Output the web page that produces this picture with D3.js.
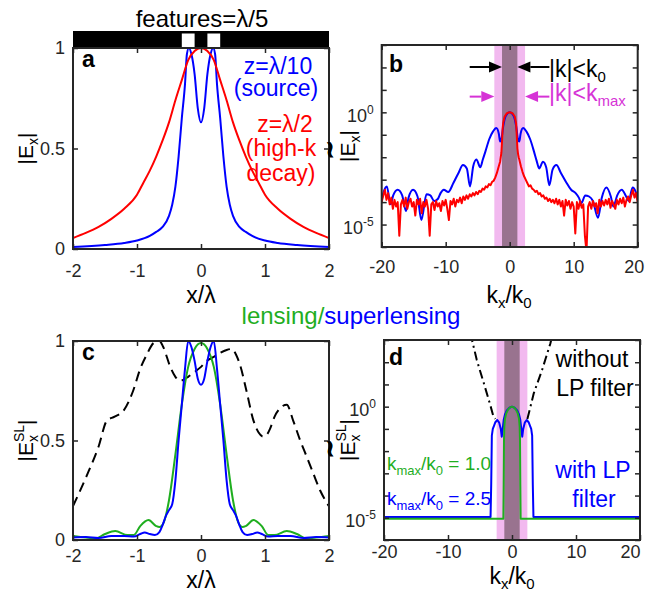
<!DOCTYPE html>
<html><head><meta charset="utf-8">
<script src="https://cdn.jsdelivr.net/npm/d3@7"></script>
<style>
body{margin:0;background:#fff}
svg{display:block}
</style></head><body>
<svg id="fig" width="648" height="597"></svg>
<script>
// ---------- data ----------
// (a) real-space field profiles |Ex|
const aSrcX = [-2,-1.5,-1.2,-1,-0.8,-0.7,-0.6,-0.5,-0.45,-0.4,-0.35,-0.3,-0.25,-0.22,-0.19,-0.15,-0.1,-0.05,0,0.05,0.1,0.15,0.19,0.22,0.25,0.3,0.35,0.4,0.45,0.5,0.6,0.7,0.8,1,1.2,1.5,2];
const aSrcY = [0.01,0.02,0.03,0.042,0.065,0.085,0.11,0.165,0.22,0.31,0.46,0.65,0.82,0.97,1.0,0.97,0.87,0.7,0.63,0.7,0.87,0.97,1.0,0.97,0.82,0.65,0.46,0.31,0.22,0.165,0.11,0.085,0.065,0.042,0.03,0.02,0.01];
const aFarX = [-2,-1.8,-1.6,-1.4,-1.2,-1,-0.9,-0.8,-0.7,-0.6,-0.5,-0.4,-0.3,-0.2,-0.1,0,0.1,0.2,0.3,0.4,0.5,0.6,0.7,0.8,0.9,1,1.2,1.4,1.6,1.8,2];
const aFarY = [0.055,0.08,0.11,0.15,0.2,0.27,0.33,0.39,0.46,0.54,0.63,0.74,0.84,0.94,0.985,1,0.985,0.94,0.84,0.74,0.63,0.54,0.46,0.39,0.33,0.27,0.2,0.15,0.11,0.08,0.055];
const featureCenters = [-0.2, 0.2];
const featureWidth = 0.2;

// (b) spatial spectra, log10 of |E~x|
const bSrcK = [-20,-19.7,-19.2,-18.6,-18.2,-17.5,-16.8,-16.2,-15.8,-15.1,-14.4,-13.8,-13.0,-12.4,-11.8,-11.2,-10.8,-10.3,-9.6,-8.8,-8.0,-7.3,-6.7,-6.2,-5.7,-5.2,-4.6,-4.2,-3.8,-3.2,-2.6,-2.1,-1.7,-1.5,-1.3,-1.0,-0.6,0,0.6,1.0,1.3,1.5,1.7,2.1,2.6,3.2,3.8,4.2,4.6,5.2,5.7,6.2,6.7,7.3,8.0,8.8,9.6,10.3,10.8,11.2,11.8,12.4,13.0,13.8,14.4,15.1,15.8,16.2,16.8,17.5,18.2,18.6,19.2,19.7,20];
const bSrcE = [-3.9,-3.55,-3.3,-4.1,-3.7,-3.45,-3.7,-4.4,-3.8,-3.45,-3.75,-4.8,-3.65,-3.7,-3.95,-3.85,-3.6,-3.45,-3.55,-3.15,-2.7,-2.35,-2.5,-3.3,-2.4,-2.1,-2.45,-2.1,-1.75,-1.2,-0.85,-0.7,-0.95,-1.3,-1.2,-0.6,-0.15,0,-0.15,-0.6,-1.2,-1.3,-0.95,-0.7,-0.85,-1.2,-1.75,-2.15,-2.5,-2.2,-2.45,-3.25,-2.55,-2.35,-2.7,-3.1,-3.45,-3.6,-3.8,-4.05,-3.7,-3.75,-3.95,-4.7,-3.8,-3.35,-3.75,-4.2,-3.7,-3.45,-3.75,-3.95,-3.35,-3.55,-3.9];
const bFarK = [-20,-19.75,-19.5,-19.25,-19,-18.75,-18.5,-18.25,-18,-17.75,-17.5,-17.25,-17,-16.75,-16.5,-16.25,-16,-15.75,-15.5,-15.25,-15,-14.75,-14.5,-14.25,-14,-13.75,-13.5,-13.25,-13,-12.75,-12.5,-12.25,-12,-11.75,-11.5,-11.25,-11,-10.75,-10.5,-10.25,-10,-9.75,-9.5,-9.25,-9,-8.75,-8.5,-8.25,-8,-7.75,-7.5,-7.25,-7,-6.75,-6.5,-6.25,-6,-5.75,-5.5,-5.25,-5,-4.75,-4.5,-4.25,-4,-3.75,-3.5,-3.25,-3,-2.75,-2.5,-2.25,-2,-1.75,-1.5,-1.4,-1.3,-1.2,-1.1,-1,-0.8,-0.5,-0.25,0,0.25,0.5,0.8,1,1.1,1.2,1.3,1.4,1.5,1.75,2,2.25,2.5,2.75,3,3.25,3.5,3.75,4,4.25,4.5,4.75,5,5.25,5.5,5.75,6,6.25,6.5,6.75,7,7.25,7.5,7.75,8,8.25,8.5,8.75,9,9.25,9.5,9.75,10,10.25,10.5,10.75,11,11.25,11.5,11.75,12,12.25,12.5,12.75,13,13.25,13.5,13.75,14,14.25,14.5,14.75,15,15.25,15.5,15.75,16,16.25,16.5,16.75,17,17.25,17.5,17.75,18,18.25,18.5,18.75,19,19.25,19.5,19.75,20];
const bFarE = [-4.0,-3.7,-3.45,-3.9,-3.6,-4.1,-3.8,-4.3,-3.9,-4.2,-4.0,-5.5,-4.1,-3.9,-4.2,-3.8,-4.3,-4.0,-3.85,-4.2,-4.0,-4.6,-3.9,-4.1,-3.85,-4.5,-4.0,-4.2,-3.9,-4.3,-5.5,-4.1,-4.0,-4.35,-3.95,-4.2,-4.05,-4.4,-3.95,-4.15,-3.9,-4.3,-4.8,-3.95,-4.1,-3.85,-4.2,-3.9,-4.0,-3.8,-4.05,-3.75,-3.9,-3.7,-3.85,-3.65,-3.75,-3.6,-3.7,-3.55,-3.65,-3.5,-3.55,-3.4,-3.45,-3.3,-3.35,-3.2,-3.25,-3.1,-3.05,-2.9,-2.7,-2.45,-2.2,-2.0,-1.8,-1.3,-0.7,-0.45,-0.2,-0.06,-0.015,0,-0.015,-0.06,-0.2,-0.5,-1.0,-1.6,-1.85,-2.0,-2.1,-2.4,-2.65,-2.85,-3.0,-3.15,-3.3,-3.25,-3.4,-3.45,-3.55,-3.5,-3.65,-3.6,-3.75,-3.7,-3.85,-3.8,-3.95,-3.85,-4.0,-3.9,-4.05,-3.85,-4.1,-3.9,-4.2,-3.95,-4.6,-3.9,-4.15,-3.95,-4.3,-4.0,-4.2,-5.4,-4.0,-4.3,-3.95,-4.25,-4.1,-5.5,-6.2,-4.2,-4.0,-4.3,-3.95,-4.2,-4.05,-4.5,-3.9,-4.2,-3.95,-4.15,-3.9,-4.1,-3.85,-4.25,-3.95,-4.1,-4.3,-3.9,-4.1,-3.85,-4.05,-3.8,-4.2,-3.9,-3.75,-4.0,-3.7,-3.45,-3.8,-3.6,-4.0];
const k0Half = 1.2;      // |k| < k0 band
const kmaxHalf = 2.4;    // |k| < kmax band

// (c) superlens image profiles |Ex^SL|
const cLensX = [-2,-1.8,-1.65,-1.5,-1.34,-1.15,-1.05,-0.95,-0.82,-0.7,-0.65,-0.58,-0.5,-0.4,-0.3,-0.2,-0.1,0,0.1,0.2,0.3,0.4,0.5,0.58,0.65,0.7,0.82,0.95,1.05,1.15,1.34,1.5,1.65,1.8,2];
const cLensY = [0.02,0.012,0.008,0.03,0.045,0.025,0.025,0.07,0.10,0.07,0.065,0.09,0.2,0.43,0.68,0.87,0.96,0.99,0.96,0.87,0.68,0.43,0.2,0.09,0.065,0.07,0.10,0.07,0.025,0.025,0.045,0.03,0.008,0.012,0.02];
const cSuperX = [-2,-1.8,-1.6,-1.4,-1.2,-1.05,-0.95,-0.88,-0.8,-0.72,-0.65,-0.6,-0.55,-0.5,-0.45,-0.4,-0.35,-0.3,-0.25,-0.2,-0.15,-0.1,-0.05,0,0.05,0.1,0.15,0.2,0.25,0.3,0.35,0.4,0.45,0.5,0.55,0.6,0.65,0.72,0.8,0.88,0.95,1.05,1.2,1.4,1.6,1.8,2];
const cSuperY = [0.013,0.015,0.01,0.02,0.02,0.018,0.03,0.038,0.03,0.025,0.04,0.075,0.12,0.15,0.18,0.3,0.5,0.68,0.86,1.0,0.97,0.9,0.81,0.78,0.81,0.9,0.97,1.0,0.86,0.68,0.5,0.3,0.18,0.15,0.12,0.075,0.04,0.025,0.03,0.038,0.03,0.018,0.02,0.02,0.01,0.015,0.013];
const cNoLPX = [-2,-1.79,-1.6,-1.47,-1.35,-1.21,-1.06,-0.95,-0.85,-0.74,-0.65,-0.59,-0.48,-0.4,-0.33,-0.2,-0.12,0,0.09,0.2,0.3,0.4,0.48,0.55,0.61,0.71,0.82,0.9,0.97,1.03,1.08,1.15,1.23,1.34,1.44,1.55,1.65,1.76,1.86,1.96,2];
const cNoLPY = [0.17,0.32,0.47,0.6,0.62,0.65,0.75,0.86,0.93,0.99,1.0,0.97,0.87,0.82,0.8,0.82,0.84,0.87,0.9,0.92,0.94,0.955,0.96,0.93,0.88,0.75,0.6,0.54,0.52,0.53,0.56,0.62,0.66,0.68,0.6,0.5,0.42,0.33,0.25,0.19,0.17];

// (d) filtered spectra, log10 of |E~x^SL|
const dSuperK = [-20,-3.35,-3.25,-3.15,-3.0,-2.8,-2.6,-2.3,-2.0,-1.75,-1.6,-1.45,-1.3,-1.1,-0.8,-0.4,0,0.4,0.8,1.1,1.3,1.45,1.6,1.75,2.0,2.3,2.6,2.8,3.0,3.15,3.25,3.35,20];
const dSuperE = [-4.96,-4.96,-3.5,-1.3,-1.0,-0.85,-0.7,-0.6,-0.72,-1.0,-1.35,-1.0,-0.6,-0.35,-0.17,-0.05,0,-0.05,-0.17,-0.35,-0.6,-1.0,-1.35,-1.0,-0.72,-0.6,-0.7,-0.85,-1.0,-1.3,-3.5,-4.96,-4.96];
const dLensK = [-20,-1.35,-1.3,-1.25,-1.2,-1.1,-0.9,-0.6,-0.3,0,0.3,0.6,0.9,1.1,1.2,1.25,1.3,1.35,20];
const dLensE = [-5.04,-5.04,-3.5,-1.5,-0.9,-0.55,-0.3,-0.12,-0.03,0,-0.03,-0.12,-0.3,-0.55,-0.9,-1.5,-3.5,-5.04,-5.04];
const dNoLPK = [-6.6,-6.25,-5.5,-4.4,-3.4,-2.9,-2.6,0,2.4,2.8,3.4,4.7,6.0,6.3];
const dNoLPE = [3.3,3.0,2.1,1.05,0.08,-0.45,-0.55,null,-0.55,-0.1,0.6,1.65,2.85,3.2];

const xTicksA = [-2,-1,0,1,2];
const yTicksA = [0,0.5,1];
const xTicksB = [-20,-10,0,10,20];
const decades = [-6,-5,-4,-3,-2,-1,0,1,2,3];
const labelledDecades = [0,-5];

// ---------- drawing ----------
const FONT = '"Liberation Sans", Arial, Helvetica, sans-serif';
const AX = "#262626";
const BLUE = "#0000ff", RED = "#ff0000", GREEN = "#1fae1f", MAG = "#d633d6";
const PINK = "#f2b9ef", DARK = "#99738f";
const TXT = 23, SUB = 15;

const svg = d3.select("#fig").style("font-family", FONT);

const boxA = {l:73, r:329, t:48, b:249};
const boxB = {l:381.7, r:637.7, t:45, b:247};
const boxC = {l:73, r:329, t:341, b:540};
const boxD = {l:384, r:640, t:340, b:540};

const xA = d3.scaleLinear().domain([-2,2]).range([boxA.l, boxA.r]);
const yA = d3.scaleLinear().domain([0,1]).range([boxA.b, boxA.t]);
const xB = d3.scaleLinear().domain([-20,20]).range([boxB.l, boxB.r]);
const yB = d3.scaleLog().domain([1e-6,1e3]).range([boxB.b, boxB.t]);
const xC = d3.scaleLinear().domain([-2,2]).range([boxC.l, boxC.r]);
const yC = d3.scaleLinear().domain([0,1]).range([boxC.b, boxC.t]);
const xD = d3.scaleLinear().domain([-20,20]).range([boxD.l, boxD.r]);
const yD = d3.scaleLog().domain([1e-6,1e3]).range([boxD.b, boxD.t]);

const defs = svg.append("defs");
function clip(id, box) {
  defs.append("clipPath").attr("id", id).append("rect")
    .attr("x", box.l).attr("y", box.t).attr("width", box.r - box.l).attr("height", box.b - box.t);
  return svg.append("g").attr("clip-path", `url(#${id})`);
}

function zipLin(xs, ys) { return xs.map((x, i) => ({x, y: ys[i]})); }
function zipLog(xs, es) { return xs.map((x, i) => ({x, y: es[i] === null ? null : Math.pow(10, es[i])})); }

function plot(g, data, x, y, color, opts = {}) {
  const line = d3.line().defined(d => d.y !== null).x(d => x(d.x)).y(d => y(d.y))
    .curve(opts.curve || d3.curveLinear);
  g.append("path").datum(data).attr("d", line).attr("fill", "none")
    .attr("stroke", color).attr("stroke-width", opts.width || 2)
    .attr("stroke-linejoin", "round")
    .attr("stroke-dasharray", opts.dash || null);
}

function axes(box, x, y, xTicks, yTicks, yFmt, pad, lastShift) {
  const g = svg.append("g");
  const bottom = g.append("g").attr("transform", `translate(0,${box.b})`)
    .call(d3.axisBottom(x).tickValues(xTicks).tickSize(-5).tickPadding(pad).tickFormat(d => String(d)));
  g.append("g").attr("transform", `translate(0,${box.t})`)
    .call(d3.axisTop(x).tickValues(xTicks).tickSize(-5).tickFormat(""));
  const left = g.append("g").attr("transform", `translate(${box.l},0)`)
    .call(d3.axisLeft(y).tickValues(yTicks).tickSize(-5).tickPadding(8).tickFormat(yFmt));
  g.append("g").attr("transform", `translate(${box.r},0)`)
    .call(d3.axisRight(y).tickValues(yTicks).tickSize(-5).tickFormat(""));
  g.selectAll(".domain").remove();
  g.selectAll(".tick line").attr("stroke", AX).attr("stroke-width", 1.5);
  g.selectAll(".tick text").attr("fill", AX).style("font-size", "18px").style("font-family", FONT);
  if (lastShift !== undefined) {
    bottom.selectAll(".tick text").filter(d => d === xTicks[xTicks.length - 1])
      .attr("text-anchor", "end").attr("dx", lastShift);
  }
  g.append("rect").attr("x", box.l).attr("y", box.t)
    .attr("width", box.r - box.l).attr("height", box.b - box.t)
    .attr("fill", "none").attr("stroke", AX).attr("stroke-width", 2);
  return left;
}

// log-axis labels: 10 with a raised exponent
function powerLabels(left) {
  left.selectAll(".tick text").each(function(d) {
    const e = Math.round(Math.log10(d));
    const t = d3.select(this);
    t.text("");
    if (labelledDecades.includes(e)) {
      t.attr("dy", 9);
      t.append("tspan").text("10");
      t.append("tspan").attr("dy", -8).style("font-size", "12px").text(String(e));
    }
  });
}

function measure(str, size) {
  const t = svg.append("text").style("font-size", size + "px").style("font-family", FONT).text(str);
  const w = t.node().getComputedTextLength();
  t.remove();
  return w;
}

// rotated |E_x| style axis title; spectra carry a tilde over the E
function yTitle(cx, cy, tilde, sup) {
  const g = svg.append("g").attr("transform", `translate(${cx},${cy}) rotate(-90)`);
  const t = g.append("text").attr("text-anchor", "middle").style("font-size", "21px").attr("fill", "#000");
  const wBar = measure("|", 21), wE = measure("E", 21);
  let total;
  t.append("tspan").text("|E");
  if (sup) {
    const ws = measure(sup, 14), wx = measure("x", 14);
    t.append("tspan").attr("dy", -9).style("font-size", "14px").text(sup);
    t.append("tspan").attr("dx", -ws).attr("dy", 14).style("font-size", "14px").text("x");
    t.append("tspan").attr("dx", ws - wx).attr("dy", -5).text("|");
    total = 2 * wBar + wE + ws;
  } else {
    t.append("tspan").attr("dy", 5).style("font-size", "14px").text("x");
    t.append("tspan").attr("dy", -5).text("|");
    total = 2 * wBar + wE + measure("x", 14);
  }
  if (tilde) {
    const eCenter = -total / 2 + wBar + wE / 2;
    g.append("text").attr("text-anchor", "middle").attr("x", eCenter).attr("y", -18)
      .style("font-size", "22px").style("font-weight", "bold")
      .attr("fill", "#000").attr("stroke", "#000").attr("stroke-width", 0.6)
      .text("\u223C");
  }
}

function kTitle(cx, y) {
  const t = svg.append("text").attr("x", cx).attr("y", y).attr("text-anchor", "middle")
    .style("font-size", TXT + "px");
  t.append("tspan").text("k");
  t.append("tspan").attr("dy", 5).style("font-size", SUB + "px").text("x");
  t.append("tspan").attr("dy", -5).text("/k");
  t.append("tspan").attr("dy", 5).style("font-size", SUB + "px").text("0");
}

function label(x, y, str, color, size, anchor, weight) {
  return svg.append("text").attr("x", x).attr("y", y).attr("fill", color)
    .attr("text-anchor", anchor || "middle").style("font-size", size + "px")
    .style("font-weight", weight || "normal").text(str);
}

function arrow(x1, x2, y, color) {
  const dir = Math.sign(x2 - x1), head = 13, half = 5.5;
  svg.append("line").attr("x1", x1).attr("x2", x2 - dir * head).attr("y1", y).attr("y2", y)
    .attr("stroke", color).attr("stroke-width", 2);
  svg.append("path").attr("d", `M${x2},${y}L${x2 - dir * head},${y - half}L${x2 - dir * head},${y + half}Z`)
    .attr("fill", color);
}

// ----- panel a -----
{
  const bar = svg.append("g");
  bar.append("rect").attr("x", xA(-2)).attr("width", xA(2) - xA(-2)).attr("y", 31).attr("height", 16).attr("fill", "#000");
  bar.selectAll("rect.hole").data(featureCenters).join("rect").attr("class", "hole")
    .attr("x", d => xA(d - featureWidth / 2)).attr("width", d => xA(d + featureWidth / 2) - xA(d - featureWidth / 2))
    .attr("y", 33.5).attr("height", 13.5).attr("fill", "#fff");
  label(202, 27, "features=λ/5", "#000", 24);

  const g = clip("clipA", boxA);
  plot(g, zipLin(aSrcX, aSrcY), xA, yA, BLUE, {curve: d3.curveMonotoneX});
  plot(g, zipLin(aFarX, aFarY), xA, yA, RED, {curve: d3.curveMonotoneX});
  axes(boxA, xA, yA, xTicksA, yTicksA, d => String(d), 15);
  label(82, 67, "a", "#000", 23, "start", "bold");
  label(278, 74, "z=λ/10", BLUE, TXT);
  label(276, 96, "(source)", BLUE, TXT);
  label(285, 132, "z=λ/2", RED, TXT);
  label(281, 156, "(high-k", RED, TXT);
  label(281, 181, "decay)", RED, TXT);
  yTitle(33, (boxA.t + boxA.b) / 2, false, null);
  label(201, 303, "x/λ", "#000", TXT);
}

// ----- panel b -----
{
  const g = clip("clipB", boxB);
  g.append("rect").attr("x", xB(-kmaxHalf)).attr("width", xB(kmaxHalf) - xB(-kmaxHalf))
    .attr("y", boxB.t).attr("height", boxB.b - boxB.t).attr("fill", PINK);
  g.append("rect").attr("x", xB(-k0Half)).attr("width", xB(k0Half) - xB(-k0Half))
    .attr("y", boxB.t).attr("height", boxB.b - boxB.t).attr("fill", DARK);
  plot(g, zipLog(bSrcK, bSrcE), xB, yB, BLUE, {curve: d3.curveMonotoneX});
  plot(g, zipLog(bFarK, bFarE), xB, yB, RED, {width: 2});
  const left = axes(boxB, xB, yB, xTicksB, decades.map(e => Math.pow(10, e)), () => "", 13, 6);
  powerLabels(left);
  label(389, 72, "b", "#000", 23, "start", "bold");

  const yk0 = yB(Math.pow(10, 2.02)), ykm = yB(Math.pow(10, 0.7));
  arrow(xB(-6.25), xB(-k0Half), yk0, "#000");
  arrow(xB(6.2), xB(k0Half), yk0, "#000");
  arrow(xB(-6.25), xB(-kmaxHalf), ykm, MAG);
  arrow(xB(6.2), xB(kmaxHalf), ykm, MAG);
  const t1 = svg.append("text").attr("x", 549).attr("y", 77).style("font-size", TXT + "px").attr("fill", "#000");
  t1.append("tspan").text("|k|<k");
  t1.append("tspan").attr("dy", 5).style("font-size", SUB + "px").text("0");
  const t2 = svg.append("text").attr("x", 549).attr("y", 101).style("font-size", TXT + "px").attr("fill", MAG);
  t2.append("tspan").text("|k|<k");
  t2.append("tspan").attr("dy", 5).style("font-size", SUB + "px").text("max");

  yTitle(355, (boxB.t + boxB.b) / 2, true, null);
  kTitle(509, 303);
}

// ----- panel c -----
{
  const g = clip("clipC", boxC);
  plot(g, zipLin(cNoLPX, cNoLPY), xC, yC, "#000", {curve: d3.curveMonotoneX, dash: "10,6"});
  plot(g, zipLin(cLensX, cLensY), xC, yC, GREEN, {curve: d3.curveMonotoneX});
  plot(g, zipLin(cSuperX, cSuperY), xC, yC, BLUE, {curve: d3.curveMonotoneX});
  axes(boxC, xC, yC, xTicksA, yTicksA, d => String(d), 9);
  label(82, 360, "c", "#000", 23, "start", "bold");
  yTitle(33, (boxC.t + boxC.b) / 2, false, "SL");
  label(201, 588, "x/λ", "#000", TXT);

  const h = svg.append("text").attr("x", 351).attr("y", 324).attr("text-anchor", "middle").style("font-size", "24px");
  h.append("tspan").attr("fill", GREEN).text("lensing/");
  h.append("tspan").attr("fill", BLUE).text("superlensing");
}

// ----- panel d -----
{
  const g = clip("clipD", boxD);
  g.append("rect").attr("x", xD(-kmaxHalf)).attr("width", xD(kmaxHalf) - xD(-kmaxHalf))
    .attr("y", boxD.t).attr("height", boxD.b - boxD.t).attr("fill", PINK);
  g.append("rect").attr("x", xD(-k0Half)).attr("width", xD(k0Half) - xD(-k0Half))
    .attr("y", boxD.t).attr("height", boxD.b - boxD.t).attr("fill", DARK);
  plot(g, zipLog(dNoLPK, dNoLPE), xD, yD, "#000", {dash: "9,4,2,4"});
  plot(g, zipLog(dSuperK, dSuperE), xD, yD, BLUE);
  plot(g, zipLog(dLensK, dLensE), xD, yD, GREEN);
  const left = axes(boxD, xD, yD, xTicksB, decades.map(e => Math.pow(10, e)), () => "", 5, 0);
  powerLabels(left);
  label(389, 365, "d", "#000", 23, "start", "bold");

  label(592, 367, "without", "#000", TXT);
  label(595, 396, "LP filter", "#000", TXT);
  label(593, 478, "with LP", BLUE, TXT);
  label(594, 507, "filter", BLUE, TXT);
  const k1 = svg.append("text").attr("x", 387).attr("y", 470).style("font-size", "19px").attr("fill", GREEN);
  k1.append("tspan").text("k");
  k1.append("tspan").attr("dy", 5).style("font-size", "13px").text("max");
  k1.append("tspan").attr("dy", -5).text("/k");
  k1.append("tspan").attr("dy", 5).style("font-size", "13px").text("0");
  k1.append("tspan").attr("dy", -5).text(" = 1.0");
  const k2 = svg.append("text").attr("x", 387).attr("y", 505).style("font-size", "19px").attr("fill", BLUE);
  k2.append("tspan").text("k");
  k2.append("tspan").attr("dy", 5).style("font-size", "13px").text("max");
  k2.append("tspan").attr("dy", -5).text("/k");
  k2.append("tspan").attr("dy", 5).style("font-size", "13px").text("0");
  k2.append("tspan").attr("dy", -5).text(" = 2.5");

  yTitle(355, (boxD.t + boxD.b) / 2, true, "SL");
  kTitle(512, 584);
}
</script>
</body></html>
